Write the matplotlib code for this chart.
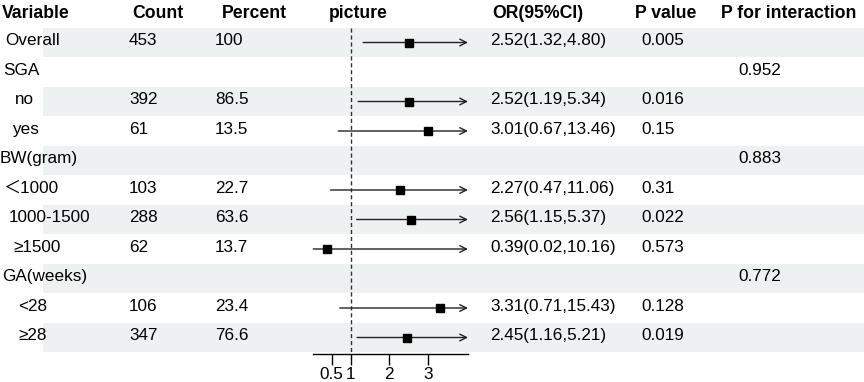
import numpy as np
import matplotlib.pyplot as plt

plt.rcParams['font.family'] = ['Liberation Sans', 'Noto Sans CJK SC', 'DejaVu Sans']

# table data
labels = ["Overall", "SGA", "no", "yes", "BW(gram)", "\uff1c1000", "1000-1500",
          "\u22651500", "GA(weeks)", "<28", "\u226528"]
label_indent = [5, 3, 15, 12, 0, 3, 9, 13, 2, 18, 18]
counts = ["453", "", "392", "61", "", "103", "288", "62", "", "106", "347"]
percents = ["100", "", "86.5", "13.5", "", "22.7", "63.6", "13.7", "", "23.4", "76.6"]
or_est = [2.52, None, 2.52, 3.01, None, 2.27, 2.56, 0.39, None, 3.31, 2.45]
ci_low = [1.32, None, 1.19, 0.67, None, 0.47, 1.15, 0.02, None, 0.71, 1.16]
ci_high = [4.80, None, 5.34, 13.46, None, 11.06, 5.37, 10.16, None, 15.43, 5.21]
p_values = ["0.005", "", "0.016", "0.15", "", "0.31", "0.022", "0.573", "", "0.128", "0.019"]
p_interaction = ["", "0.952", "", "", "0.883", "", "", "", "0.772", "", ""]

headers = ["Variable", "Count", "Percent", "picture", "OR(95%CI)", "P value", "P for interaction"]
header_x = [2, 132, 222, 329, 492, 635, 721]

W, H = 864, 382
row0, pitch = 42.5, 29.5  # pixel centre of first row and row spacing
y_top = (0 - row0) / pitch
y_bot = (H - row0) / pitch
n = len(labels)

fig = plt.figure(figsize=(W / 100, H / 100), dpi=100)
bg = fig.add_axes([0, 0, 1, 1])
bg.set_xlim(0, W)
bg.set_ylim(y_bot, y_top)
bg.axis("off")

band_col = "#eef1f1"
for i in range(0, n, 2):
    bg.axhspan(i - 0.5, i + 0.5, xmin=43 / W, xmax=1, color=band_col, lw=0, zorder=0)

fs = 12.3
for hx, h in zip(header_x, headers):
    bg.text(hx, -1, h, fontsize=12.7, fontweight="bold", va="center", ha="left")

for i in range(n):
    y = i - 0.06
    bg.text(label_indent[i], y, labels[i], fontsize=fs, va="center", ha="left")
    bg.text(129, y, counts[i], fontsize=fs, va="center", ha="left")
    bg.text(215, y, percents[i], fontsize=fs, va="center", ha="left")
    if or_est[i] is not None:
        bg.text(490, y, f"{or_est[i]:.2f}({ci_low[i]:.2f},{ci_high[i]:.2f})",
                fontsize=fs, va="center", ha="left")
    bg.text(641, y, p_values[i], fontsize=fs, va="center", ha="left")
    bg.text(738, y, p_interaction[i], fontsize=fs, va="center", ha="left")

# forest plot panel
ax_left, ax_right, ax_bottom_px = 312.5, 468, 354
axis_y = (ax_bottom_px - row0) / pitch
ax = fig.add_axes([ax_left / W, (H - ax_bottom_px) / H, (ax_right - ax_left) / W, ax_bottom_px / H])
ax.patch.set_alpha(0)
xmax = 4.05
ax.set_xlim(0, xmax)
ax.set_ylim(axis_y, y_top)
for s in ["top", "right", "left"]:
    ax.spines[s].set_visible(False)
ax.spines["bottom"].set_linewidth(1)
ax.set_yticks([])
ax.set_xticks([0.5, 1, 2, 3])
ax.set_xticklabels(["0.5", "1", "2", "3"], fontsize=12.3)
ax.tick_params(axis="x", length=8, width=1, pad=1.5)

ax.plot([1, 1], [-0.5, axis_y], color="#333333", lw=1, ls=(0, (3, 2)), zorder=1)

line_col = "#222222"
for i in range(n):
    if or_est[i] is None:
        continue
    hi = min(ci_high[i], xmax)
    style = "->" if ci_high[i] > xmax else "-"
    ax.annotate("", xy=(hi, i), xytext=(ci_low[i], i),
                arrowprops=dict(arrowstyle=style, color=line_col, lw=1,
                                shrinkA=0, shrinkB=0, mutation_scale=12))
    ax.plot(or_est[i], i, marker="s", color="black", markersize=5.2, zorder=3)

fig.savefig("out.png", dpi=100)
